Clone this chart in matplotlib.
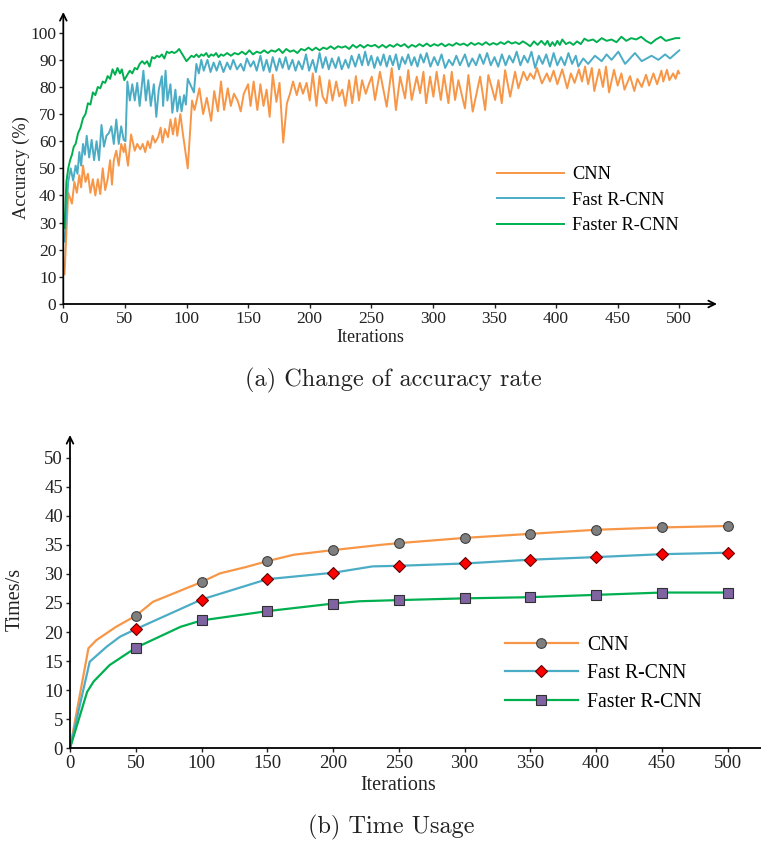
import matplotlib
matplotlib.use("Agg")
import matplotlib.pyplot as plt
from matplotlib.lines import Line2D

# ---------------- data: (a) accuracy ----------------
cnn_iter = [1, 4, 7, 9, 11, 13, 14.5, 16, 18, 20, 22, 24, 26, 28, 30, 32, 34, 36, 38, 39.5,
            41, 43, 45, 47, 49, 50, 52.5, 55, 58, 60, 62.5, 64.5, 66.5, 68.5, 70.5, 72.5, 74.5, 77, 79, 80.5,
            82.5, 85, 87, 89, 91, 92.5, 95, 97, 101, 104.5, 106.5, 110.5, 113.5, 116.5, 120, 122.5, 125.5, 128, 130.5, 133.5,
            136, 138.5, 141.5, 144, 146.5, 150, 152, 154.5, 157.5, 160, 162.5, 165, 167.5, 170, 173, 175.5, 178.5, 181.5, 184, 186.5,
            189.5, 192, 194.5, 197.5, 200, 202.5, 205.5, 208, 210.5, 213.5, 216, 218.5, 221.5, 224, 226.5, 229, 232, 234.5, 237.5, 240,
            242.5, 245.5, 248, 250.4, 253, 257, 262.5, 266.6, 270, 273.4, 277.4, 280, 282.8, 286.9, 289.6, 292.3, 294.5, 297.7, 300.4, 303,
            306.4, 309, 312.6, 315.3, 318, 320.7, 326, 328.8, 332.3, 338.3, 342.4, 345, 350.5, 353.2, 355.9, 358.6, 362.7, 366.7, 369.4, 373.5,
            376.5, 379, 382, 384.5, 388.5, 392.5, 395, 398, 401, 405, 409, 412, 415, 418.5, 421, 423.5, 426, 429, 431, 435,
            438, 440.5, 443, 447, 450, 453, 455.5, 460, 463.5, 466, 469.5, 473, 475.5, 479, 482, 485.5, 487, 490, 492, 495,
            497, 499, 500]
cnn_acc = [11, 41, 37, 45, 41, 47.5, 43, 51, 45, 48, 41, 46, 40, 46, 40.5, 50, 42, 46, 53, 44,
           53, 56.5, 51, 59, 56, 59, 51, 62.5, 56.5, 59, 57, 59, 56, 60, 57.5, 62, 59.5, 61.5, 65, 59.5,
           64.5, 61.5, 68, 62.5, 68.5, 62, 70, 63, 50, 75, 71.5, 79.5, 70, 76, 67.5, 78.5, 71, 82, 71.5, 79.5,
           73, 77.5, 75, 71, 77.5, 81, 73, 82, 71.5, 81, 73, 79, 69, 84.5, 74.5, 81.5, 59.5, 74, 77.5, 82,
           77, 81.5, 77.5, 81.5, 75, 85, 73, 84, 76.5, 74, 82.5, 75, 82, 76.5, 79, 73, 82.5, 74, 84, 75,
           82.5, 77.5, 81, 83.8, 75.2, 85.6, 72.7, 86.9, 71.5, 83.8, 75.8, 86.2, 75.2, 83.8, 77.7, 85.6, 74, 83.8, 76.4, 85.6,
           75.2, 84.4, 74, 85.6, 75.2, 82.5, 72.1, 84.4, 70.9, 83.8, 71.5, 84.4, 75.2, 82.5, 74, 86.2, 76.4, 85.6, 79.5, 85.6,
           82.5, 85, 83, 87, 81.3, 85, 82, 86, 81, 86.5, 79.5, 85, 81.5, 86.5, 82, 87.5, 81, 87, 78.5, 86.5,
           80, 87.5, 78, 86.3, 80.5, 85, 79, 84, 78.5, 83, 80, 84.5, 80.5, 85, 81, 86, 82, 86.3, 82.5, 85,
           83, 86, 85]

fast_iter = [1, 4, 6, 8, 10, 11.5, 13, 14.5, 16, 17.5, 19, 21, 23, 25, 27, 29, 31, 33, 35, 37,
             39, 41, 43, 45, 47, 49, 50.5, 52, 54, 56, 58, 60, 62, 65, 67, 69, 71, 73.5, 75.5, 77.5,
             80, 81, 83, 84.5, 87, 88.5, 91, 92.5, 94.5, 96, 98, 99.5, 101, 106, 108, 110, 112, 114, 117, 119.5,
             122, 124.5, 127, 130, 133, 135.5, 138, 141, 144, 146.5, 149, 152, 154.5, 157, 160, 162.5, 165, 167.5, 170, 173,
             175.5, 178, 180.5, 183, 186, 188.5, 191, 194, 197, 199.5, 202.5, 205, 208, 210.5, 213, 215.5, 218, 221, 223.5, 226,
             229, 231.5, 234, 237, 240, 242.5, 245, 247.5, 250, 252.5, 255, 257.5, 260, 262.5, 265, 267.5, 270, 272.5, 275, 277.5,
             280, 282.5, 285, 287.5, 290, 292.5, 295, 298, 301, 304, 307, 310, 313, 316, 319, 322, 326, 329, 332, 335,
             338, 341, 344, 347, 350, 353, 356, 359, 362, 365, 368, 371, 374, 377, 380, 383, 386, 389, 392, 395,
             398, 401, 404, 407, 410, 413, 416, 418, 422, 426, 431.5, 437, 441, 445, 450.5, 456, 464, 469.5, 477.5, 483,
             488.5, 492.5, 500]
fast_acc = [23, 45, 50, 45.5, 51, 48, 56, 51, 59, 55, 62, 54, 60.5, 53, 60, 53, 66, 58, 62, 63,
            65.5, 59, 68, 59, 65.5, 60.5, 60, 82, 75, 81, 75, 81.5, 73, 86, 75, 82.5, 73, 81, 69, 79,
            84, 73, 86, 75, 81, 70.5, 79, 71, 76.5, 71, 77, 73.5, 83, 78, 88.5, 85, 90, 86, 90, 85.5,
            89, 86, 89.5, 85.5, 89, 86.5, 90, 86.5, 88.5, 86, 90.5, 87.5, 89.5, 86, 91.5, 86, 90, 85.5, 91, 86,
            90.5, 87, 91, 86.5, 90, 86, 89.5, 86.5, 92, 86, 90, 85.5, 92.5, 87, 91, 86.5, 90.5, 87, 91, 86.5,
            90, 87, 91.5, 87.5, 92, 88, 93, 88, 91.5, 87, 91, 88, 92, 87.5, 91.5, 88, 92, 86.5, 91, 88.5,
            92, 88, 91, 87.5, 92, 89, 92.5, 87.5, 91, 88, 92, 87, 90, 88, 91.5, 88, 92, 87.5, 90.5, 88,
            92, 88.5, 92.5, 88, 91, 87.5, 92, 88, 91.5, 89, 93, 88, 91.5, 89, 93, 87, 91.5, 88.5, 92, 87.5,
            92.5, 88, 91, 88, 92.5, 88.5, 91.5, 87.5, 90.5, 88.5, 91.5, 89.5, 92, 90, 93, 88.5, 92.5, 89.5, 91.5, 90,
            92, 90.5, 93.5]

faster_iter = [1, 2.5, 4, 5.5, 7, 8.5, 10, 12, 14, 16, 18, 20, 22, 24, 26, 28, 30, 32, 34, 36,
               38, 40, 42, 44, 46, 47.5, 49.5, 52, 54, 56, 58, 60, 62, 64, 66, 68, 70, 72, 74, 76,
               78, 80, 82, 84, 86, 88, 90, 92, 94, 96, 98, 100, 102, 104, 106, 108, 110, 112, 114, 116,
               118, 120, 122, 124, 126, 128, 130, 133, 136, 139, 142, 145, 148, 151, 154, 157, 160, 163, 166, 169,
               172, 175, 178, 181, 184, 187, 190, 193, 196, 199, 202, 205, 208, 211, 214, 217, 220, 223, 226, 229,
               232, 235, 238, 241, 244, 247, 250, 253, 256, 259, 262, 265, 268, 271, 274, 277, 280, 283, 286, 289,
               292, 295, 298, 301, 304, 307, 310, 313, 316, 319, 322, 325, 328, 331, 334, 337, 340, 343, 346, 349,
               352, 355, 358, 361, 364, 367, 370, 373, 376, 379, 382, 385, 388, 391, 393, 395, 397, 399, 401, 403,
               405, 408, 411, 414, 417, 420, 423, 426, 430, 433, 437, 441, 445, 449, 453, 457, 461, 465, 469, 473,
               477, 481, 485, 489, 493, 497, 500]
faster_acc = [28, 45, 50, 53, 55, 58, 59, 63, 65, 68.5, 70, 74, 73.5, 78, 77, 80, 79.5, 82, 81.5, 84,
              83, 86.5, 84.5, 87, 85, 86.5, 82.5, 84.5, 86, 85, 87, 86.5, 88.5, 89.5, 88.5, 89.5, 87.5, 91, 90.5, 91.5,
              91, 92, 90.5, 93, 92.5, 93, 92.5, 93, 94, 92.5, 91, 89.5, 90.5, 91.5, 91, 92, 91, 92, 91.5, 92.5,
              91, 92, 91.5, 92.5, 91, 92, 91.5, 92.5, 91.5, 92.5, 92, 93, 92, 93.5, 92, 93, 92.5, 93.5, 92.5, 93.5,
              93, 94, 92.5, 94, 93, 93.5, 92.5, 94, 93.5, 94.5, 93.5, 94.5, 93.5, 94.5, 94, 95, 94, 95, 94.5, 95,
              94, 95.5, 94.5, 95.5, 94.5, 95.5, 95, 95.5, 94.5, 95.5, 94.5, 95.5, 94.8, 95.8, 95, 95.8, 94.5, 95.5, 94.8, 95.8,
              95, 96, 95, 95.8, 95.2, 96, 95, 95.8, 95.2, 96.2, 95.5, 96, 95.2, 96.3, 95.5, 96.2, 95.5, 96.5, 95.5, 96.2,
              95.6, 96.5, 95.8, 96.8, 96, 96.5, 95.8, 96.8, 96, 95, 96.8, 95.5, 97, 95.5, 97, 95, 96.5, 95.2, 97, 95.5,
              97.5, 95.8, 96.5, 95.5, 96.8, 95.8, 97.8, 97, 97.5, 96.5, 98, 97, 97.5, 96.5, 98.5, 97, 98, 97.5, 98.5, 97,
              96, 97.5, 98.5, 97, 97.5, 98, 98]

# ---------------- data: (b) time usage ----------------
t_cnn_iter = [0, 14, 20, 35, 50, 63, 100, 114, 134, 150, 170, 200, 236, 250, 300, 350, 400, 450, 500]
t_cnn_val = [0, 17.2, 18.6, 20.9, 22.8, 25.2, 28.6, 30.1, 31.2, 32.2, 33.3, 34.1, 35.0, 35.3, 36.2, 36.9, 37.6, 38.0, 38.25]
t_fast_iter = [0, 15, 28, 38, 50, 100, 150, 200, 230, 250, 300, 350, 400, 450, 500]
t_fast_val = [0, 14.9, 17.5, 19.2, 20.5, 25.6, 29.1, 30.2, 31.3, 31.4, 31.8, 32.45, 32.9, 33.4, 33.65]
t_faster_iter = [0, 13, 18, 30, 50, 84, 100, 150, 200, 220, 250, 300, 350, 400, 450, 500]
t_faster_val = [0, 9.7, 11.5, 14.3, 17.3, 20.9, 22.0, 23.6, 24.9, 25.3, 25.5, 25.8, 26.0, 26.4, 26.8, 26.8]
marker_iters = [50, 100, 150, 200, 250, 300, 350, 400, 450, 500]

labels = ["CNN", "Fast R-CNN", "Faster R-CNN"]
c_orange, c_blue, c_green = "#F79646", "#4BACC6", "#00B050"

W, H = 761, 841
fig = plt.figure(figsize=(W / 100, H / 100), dpi=100)
serif = "Liberation Serif"


def add_axes_px(left, right, bottom, top):
    return fig.add_axes([left / W, 1 - bottom / H, (right - left) / W, (bottom - top) / H])


def style_axes(ax, size, arrow_x=True):
    for s in ("top", "right", "left"):
        ax.spines[s].set_visible(False)
    ax.spines["bottom"].set_visible(not arrow_x)
    ax.annotate("", xy=(0, 1), xytext=(0, 0), xycoords="axes fraction",
                arrowprops=dict(arrowstyle="->", lw=1.3, color="black", shrinkA=0, shrinkB=0,
                                mutation_scale=12))
    if arrow_x:
        ax.annotate("", xy=(1, 0), xytext=(0, 0), xycoords="axes fraction",
                    arrowprops=dict(arrowstyle="->", lw=1.3, color="black", shrinkA=0, shrinkB=0,
                                    mutation_scale=12))
    else:
        ax.spines["bottom"].set_linewidth(1.3)
    ax.tick_params(direction="out", length=3, width=1, labelsize=size, pad=2, colors="#222222")
    for t in ax.get_xticklabels() + ax.get_yticklabels():
        t.set_fontfamily(serif)


def px_text(x, y, s, size, rot=0, family=serif):
    fig.text(x / W, 1 - y / H, s, family=family, fontsize=size, rotation=rot,
             ha="center", va="center", color="#222222")


# ---------------- (a) ----------------
ax1 = add_axes_px(63.3, 717, 304, 12)
ax1.plot(cnn_iter, cnn_acc, color=c_orange, lw=1.4, label=labels[0])
ax1.plot(fast_iter, fast_acc, color=c_blue, lw=1.4, label=labels[1])
ax1.plot(faster_iter, faster_acc, color=c_green, lw=1.4, label=labels[2])
ax1.set_xlim(0, (717 - 63.3) / 1.232)
ax1.set_ylim(0, (304 - 12) / 2.713)
ax1.set_xticks(range(0, 501, 50))
ax1.set_yticks(range(0, 101, 10))
style_axes(ax1, 12.5, arrow_x=True)
px_text(370, 338, "Iterations", 13)
px_text(21.5, 168, "Accuracy (%)", 13.2, rot=90)
ax1.legend(loc="upper left", bbox_to_anchor=(496.7 / W, 1 - 166 / H), bbox_transform=fig.transFigure,
           frameon=False, prop={"family": serif, "size": 13.2}, handlelength=3.66, handletextpad=0.45,
           labelspacing=0.47, borderpad=0, borderaxespad=0)

px_text(393, 380, "(a) Change of accuracy rate", 17.5, family="cmr10")

# ---------------- (b) ----------------
ax2 = add_axes_px(70, 761, 748.3, 435)
ax2.plot(t_cnn_iter, t_cnn_val, color=c_orange, lw=1.6)
ax2.plot(t_fast_iter, t_fast_val, color=c_blue, lw=1.6)
ax2.plot(t_faster_iter, t_faster_val, color=c_green, lw=1.6)
m_cnn = [t_cnn_val[t_cnn_iter.index(i)] for i in marker_iters]
m_fast = [t_fast_val[t_fast_iter.index(i)] for i in marker_iters]
m_faster = [t_faster_val[t_faster_iter.index(i)] for i in marker_iters]
ax2.plot(marker_iters, m_cnn, ls="none", marker="o", ms=7, mfc="#7F7F7F", mec="#404040", mew=0.8)
ax2.plot(marker_iters, m_fast, ls="none", marker="D", ms=6, mfc="#FF0000", mec="#600000", mew=0.8)
ax2.plot(marker_iters, m_faster, ls="none", marker="s", ms=7, mfc="#8064A2", mec="#303030", mew=0.8)
ax2.set_xlim(0, (761 - 70) / 1.3154)
ax2.set_ylim(0, (748.3 - 435) / 5.812)
ax2.set_xticks(range(0, 501, 50))
ax2.set_yticks(range(0, 51, 5))
style_axes(ax2, 13.5, arrow_x=False)
px_text(398, 785, "Iterations", 14.5)
px_text(15.5, 599, "Times/s", 14.5, rot=90)

handles = [
    Line2D([], [], color=c_orange, lw=1.6, marker="o", ms=7, mfc="#7F7F7F", mec="#404040", mew=0.8),
    Line2D([], [], color=c_blue, lw=1.6, marker="D", ms=6, mfc="#FF0000", mec="#600000", mew=0.8),
    Line2D([], [], color=c_green, lw=1.6, marker="s", ms=7, mfc="#8064A2", mec="#303030", mew=0.8),
]
ax2.legend(handles, labels, loc="upper left", bbox_to_anchor=(505 / W, 1 - 636 / H),
           bbox_transform=fig.transFigure, frameon=False, prop={"family": serif, "size": 14.2},
           handlelength=3.7, handletextpad=0.45, labelspacing=0.47, borderpad=0, borderaxespad=0)

px_text(391, 827, "(b) Time Usage", 17.5, family="cmr10")

fig.savefig("out.png", dpi=100)
